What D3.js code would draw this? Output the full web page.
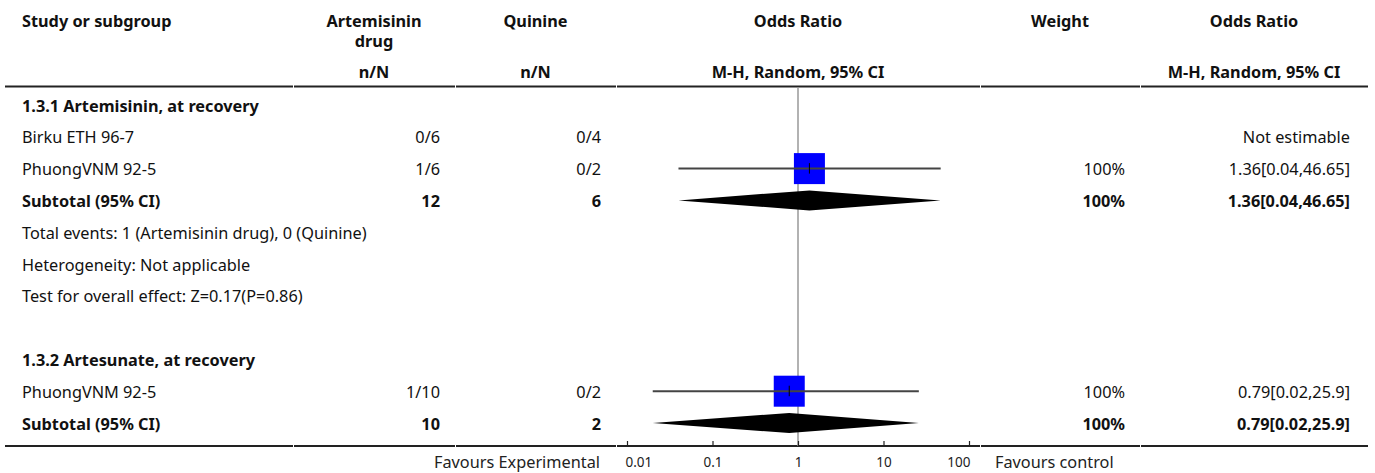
<!DOCTYPE html>
<html>
<head>
<meta charset="utf-8">
<script src="https://cdn.jsdelivr.net/npm/d3@7"></script>
<style>
  html, body { margin: 0; padding: 0; background: #fff; }
  svg { display: block; font-family: "Noto Sans", "Open Sans", sans-serif; }
</style>
</head>
<body>
<svg id="chart" width="1375" height="473"></svg>
<script>
// ---------- DATA ----------
const rowLabels = [
  "1.3.1 Artemisinin, at recovery",
  "Birku ETH 96-7",
  "PhuongVNM 92-5",
  "Subtotal (95% CI)",
  "Total events: 1 (Artemisinin drug), 0 (Quinine)",
  "Heterogeneity: Not applicable",
  "Test for overall effect: Z=0.17(P=0.86)",
  "",
  "1.3.2 Artesunate, at recovery",
  "PhuongVNM 92-5",
  "Subtotal (95% CI)"
];
const rowKinds = ["group","study","study","subtotal","note","note","note","blank","group","study","subtotal"];
const artemisininCol = ["", "0/6", "1/6", "12", "", "", "", "", "", "1/10", "10"];
const quinineCol     = ["", "0/4", "0/2", "6",  "", "", "", "", "", "0/2",  "2"];
const oddsRatios = [null, null, 1.36, 1.36, null, null, null, null, null, 0.79, 0.79];
const ciLower    = [null, null, 0.04, 0.04, null, null, null, null, null, 0.02, 0.02];
const ciUpper    = [null, null, 46.65, 46.65, null, null, null, null, null, 25.9, 25.9];
const weightCol  = ["", "", "100%", "100%", "", "", "", "", "", "100%", "100%"];
const effectCol  = ["", "Not estimable", "1.36[0.04,46.65]", "1.36[0.04,46.65]", "", "", "", "", "", "0.79[0.02,25.9]", "0.79[0.02,25.9]"];
const axisTicks = [0.01, 0.1, 1, 10, 100];
const axisTickLabels = ["0.01", "0.1", "1", "10", "100"];
const headerTop = ["Study or subgroup", "Artemisinin", "Quinine", "Odds Ratio", "Weight", "Odds Ratio"];
const headerTop2 = ["", "drug", "", "", "", ""];
const headerSub = ["", "n/N", "n/N", "M-H, Random, 95% CI", "", "M-H, Random, 95% CI"];
const favoursLeft = "Favours Experimental";
const favoursRight = "Favours control";

// ---------- LAYOUT ----------
const svg = d3.select("#chart");
const FS = 16.3;
const textColor = "#111";

const x = d3.scaleLog().domain([0.01, 100]).range([627, 969]);
const y = d3.scalePoint().domain(d3.range(rowLabels.length)).range([105, 423]);

const colEdges = [5, 293, 455, 616, 980, 1140, 1368];
const headerLineY = 86.5;
const axisY = 446;
const baseOff = 6.5;

function segLine(yy) {
  for (let i = 0; i < colEdges.length - 1; i++) {
    svg.append("line")
      .attr("x1", colEdges[i] + (i ? 1 : 0)).attr("x2", colEdges[i + 1])
      .attr("y1", yy).attr("y2", yy)
      .attr("stroke", "#222").attr("stroke-width", 2);
  }
}
segLine(headerLineY);
segLine(axisY);

// headers
const headerX = [22, 374, 535.5, 798, 1060, 1254];
const headerAnchor = ["start", "middle", "middle", "middle", "middle", "middle"];
function headerRow(arr, yy) {
  arr.forEach((t, i) => {
    if (!t) return;
    svg.append("text")
      .attr("x", headerX[i]).attr("y", yy)
      .attr("text-anchor", headerAnchor[i])
      .attr("font-weight", "bold").attr("font-size", FS).attr("fill", textColor)
      .text(t);
  });
}
headerRow(headerTop, 27);
headerRow(headerTop2, 47);
headerRow(headerSub, 78);

// reference line at OR = 1
svg.append("line")
  .attr("x1", x(1)).attr("x2", x(1))
  .attr("y1", headerLineY + 1).attr("y2", axisY)
  .attr("stroke", "#999").attr("stroke-width", 1.5);

const rows = rowLabels.map((label, i) => ({
  i, label, kind: rowKinds[i], a: artemisininCol[i], q: quinineCol[i],
  or: oddsRatios[i], lo: ciLower[i], hi: ciUpper[i], w: weightCol[i], eff: effectCol[i]
}));
const bold = k => (k === "group" || k === "subtotal") ? "bold" : "normal";

const g = svg.append("g");
function colText(accessor, xx, anchor) {
  g.selectAll(null).data(rows.filter(d => accessor(d)))
    .join("text")
    .attr("x", xx).attr("y", d => y(d.i) + baseOff)
    .attr("text-anchor", anchor)
    .attr("font-size", FS).attr("fill", textColor)
    .attr("font-weight", d => bold(d.kind))
    .text(accessor);
}
colText(d => d.label, 22, "start");
colText(d => d.a, 440, "end");
colText(d => d.q, 601, "end");
colText(d => d.w, 1125, "end");
colText(d => d.eff, 1350, "end");

// studies
const studies = rows.filter(d => d.kind === "study" && d.or != null);
const sq = 31;
g.selectAll(".sq").data(studies).join("rect")
  .attr("x", d => x(d.or) - sq / 2).attr("y", d => y(d.i) - sq / 2)
  .attr("width", sq).attr("height", sq).attr("fill", "#0000ff");
g.selectAll(".ci").data(studies).join("line")
  .attr("x1", d => x(d.lo)).attr("x2", d => x(d.hi))
  .attr("y1", d => y(d.i)).attr("y2", d => y(d.i))
  .attr("stroke", "#444").attr("stroke-width", 2);
g.selectAll(".pt").data(studies).join("line")
  .attr("x1", d => x(d.or)).attr("x2", d => x(d.or))
  .attr("y1", d => y(d.i) - 5.5).attr("y2", d => y(d.i) + 5)
  .attr("stroke", "#000").attr("stroke-width", 1);

// subtotals
const subs = rows.filter(d => d.kind === "subtotal" && d.or != null);
g.selectAll(".dia").data(subs).join("path")
  .attr("d", d => {
    const cy = y(d.i), h = 10;
    return `M${x(d.lo)},${cy}L${x(d.or)},${cy - h}L${x(d.hi)},${cy}L${x(d.or)},${cy + h}Z`;
  })
  .attr("fill", "#000");

// axis
const axis = d3.axisBottom(x).tickValues(axisTicks)
  .tickFormat((d, i) => axisTickLabels[i]).tickSize(-5).tickPadding(11);
const ax = svg.append("g").attr("transform", `translate(0,${axisY})`).call(axis);
ax.select(".domain").remove();
ax.selectAll(".tick line").attr("stroke", "#222").attr("stroke-width", 1.2);
ax.selectAll(".tick text").attr("font-size", 13.5).attr("fill", "#222")
  .attr("font-family", "'Noto Sans', 'Open Sans', sans-serif")
  .attr("text-anchor", (d, i, n) => i === 0 ? "start" : (i === n.length - 1 ? "end" : "middle"))
  .attr("dx", (d, i, n) => i === 0 ? -2 : (i === n.length - 1 ? 1 : 0));

svg.append("text").attr("x", 600).attr("y", 468)
  .attr("text-anchor", "end").attr("font-size", FS).attr("fill", "#222").text(favoursLeft);
svg.append("text").attr("x", 995).attr("y", 468)
  .attr("text-anchor", "start").attr("font-size", FS).attr("fill", "#222").text(favoursRight);
</script>
</body>
</html>
